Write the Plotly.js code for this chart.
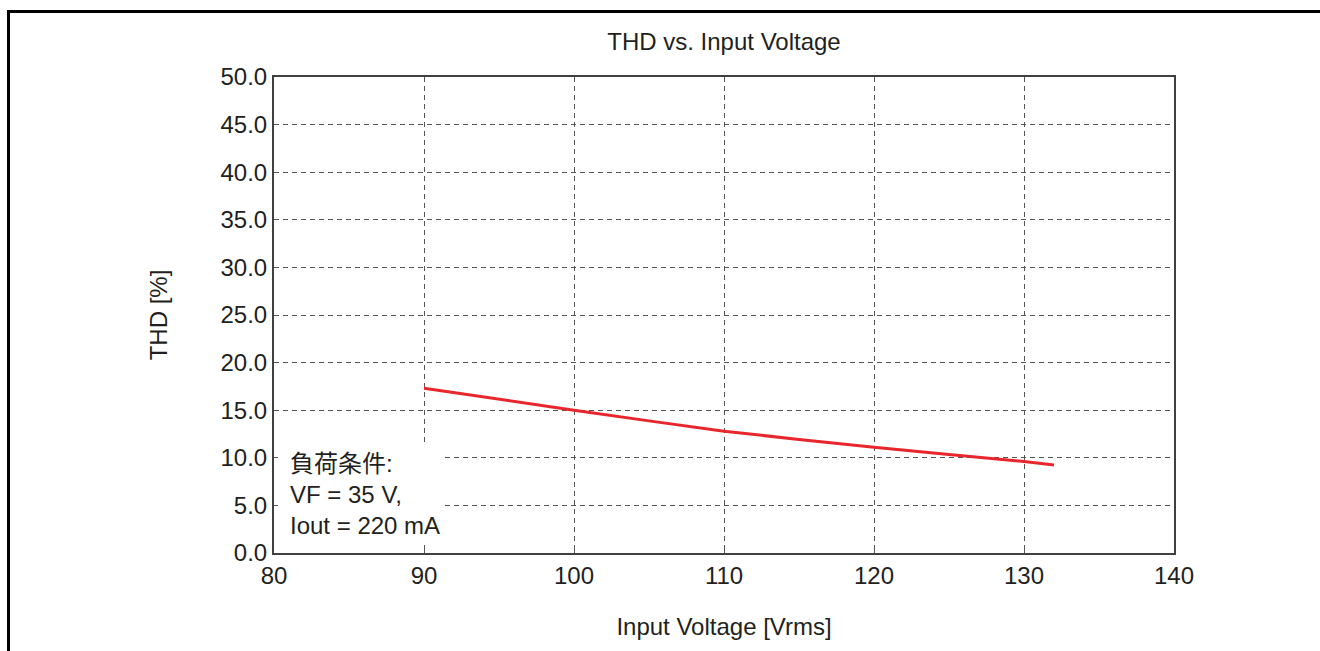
<!DOCTYPE html>
<html>
<head>
<meta charset="utf-8">
<script src="https://cdn.plot.ly/plotly-3.0.1.min.js"></script>
<style>
  html, body { margin: 0; padding: 0; background: #fff; overflow: hidden; }
  #chart { width: 1320px; height: 651px; }
  #frame {
    position: absolute; left: 7px; top: 10px;
    width: 1330px; height: 700px;
    border: 3px solid #000; pointer-events: none;
  }
</style>
</head>
<body>
<div id="chart"></div>
<div id="frame"></div>
<script>
// THD measured across the input voltage range
const inputVoltage = [90, 100, 110, 120, 130, 132];
const thdPercent   = [17.3, 15.0, 12.8, 11.1, 9.6, 9.25];

const xTicks = [80, 90, 100, 110, 120, 130, 140];
const yTicks = [0, 5, 10, 15, 20, 25, 30, 35, 40, 45, 50];
const yTickText = yTicks.map(v => v.toFixed(1));

const conditionLines = ['負荷条件:', 'VF = 35 V,', 'Iout = 220 mA'];

const textColor = '#231f20';
const fontFamily = '"Liberation Sans", Arial, sans-serif';
const fontSize = 24;

const axisCommon = {
  showline: true,
  mirror: true,
  linecolor: '#404040',
  linewidth: 2,
  ticks: 'inside',
  ticklen: 4,
  tickwidth: 1,
  tickcolor: '#555',
  showgrid: true,
  gridcolor: '#555',
  gridwidth: 1,
  griddash: '5px,4px',
  zeroline: false,
  tickfont: { family: fontFamily, size: fontSize, color: textColor },
  fixedrange: true
};

const trace = {
  x: inputVoltage,
  y: thdPercent,
  type: 'scatter',
  mode: 'lines',
  line: { color: '#e8262b', width: 3, shape: 'spline', smoothing: 0.6 },
  hoverinfo: 'skip',
  showlegend: false
};

const layout = {
  width: 1320,
  height: 651,
  margin: { l: 274, r: 146, t: 77, b: 98 },
  paper_bgcolor: '#fff',
  plot_bgcolor: '#fff',
  font: { family: fontFamily, color: textColor },
  title: {
    text: 'THD vs. Input Voltage',
    font: { family: fontFamily, size: fontSize, color: textColor },
    xref: 'paper', x: 0.5, xanchor: 'center',
    yref: 'container', y: 1 - 42 / 651, yanchor: 'middle'
  },
  xaxis: Object.assign({}, axisCommon, {
    range: [80, 140],
    tickmode: 'array',
    tickvals: xTicks,
    ticktext: xTicks.map(String),
    title: { text: 'Input Voltage [Vrms]', font: { family: fontFamily, size: fontSize, color: textColor }, standoff: 30 }
  }),
  yaxis: Object.assign({}, axisCommon, {
    range: [0, 50],
    tickmode: 'array',
    tickvals: yTicks,
    ticktext: yTickText,
    title: { text: 'THD [%]', font: { family: fontFamily, size: fontSize, color: textColor }, standoff: 46 }
  }),
  shapes: [{
    type: 'rect', layer: 'between',
    xref: 'x', yref: 'y',
    x0: 80, x1: 91.27, y0: 0.85, y1: 11.35,
    fillcolor: '#fff', line: { width: 0 }
  }],
  annotations: [{
    xref: 'x', yref: 'y',
    x: 80.95, y: 6.1,
    xanchor: 'left', yanchor: 'middle',
    align: 'left',
    showarrow: false,
    text: conditionLines.join('<br>'),
    font: { family: '"Liberation Sans", "Noto Sans CJK JP", Arial, sans-serif', size: fontSize, color: textColor }
  }]
};

Plotly.newPlot('chart', [trace], layout, { displayModeBar: false, staticPlot: true });
</script>
</body>
</html>
